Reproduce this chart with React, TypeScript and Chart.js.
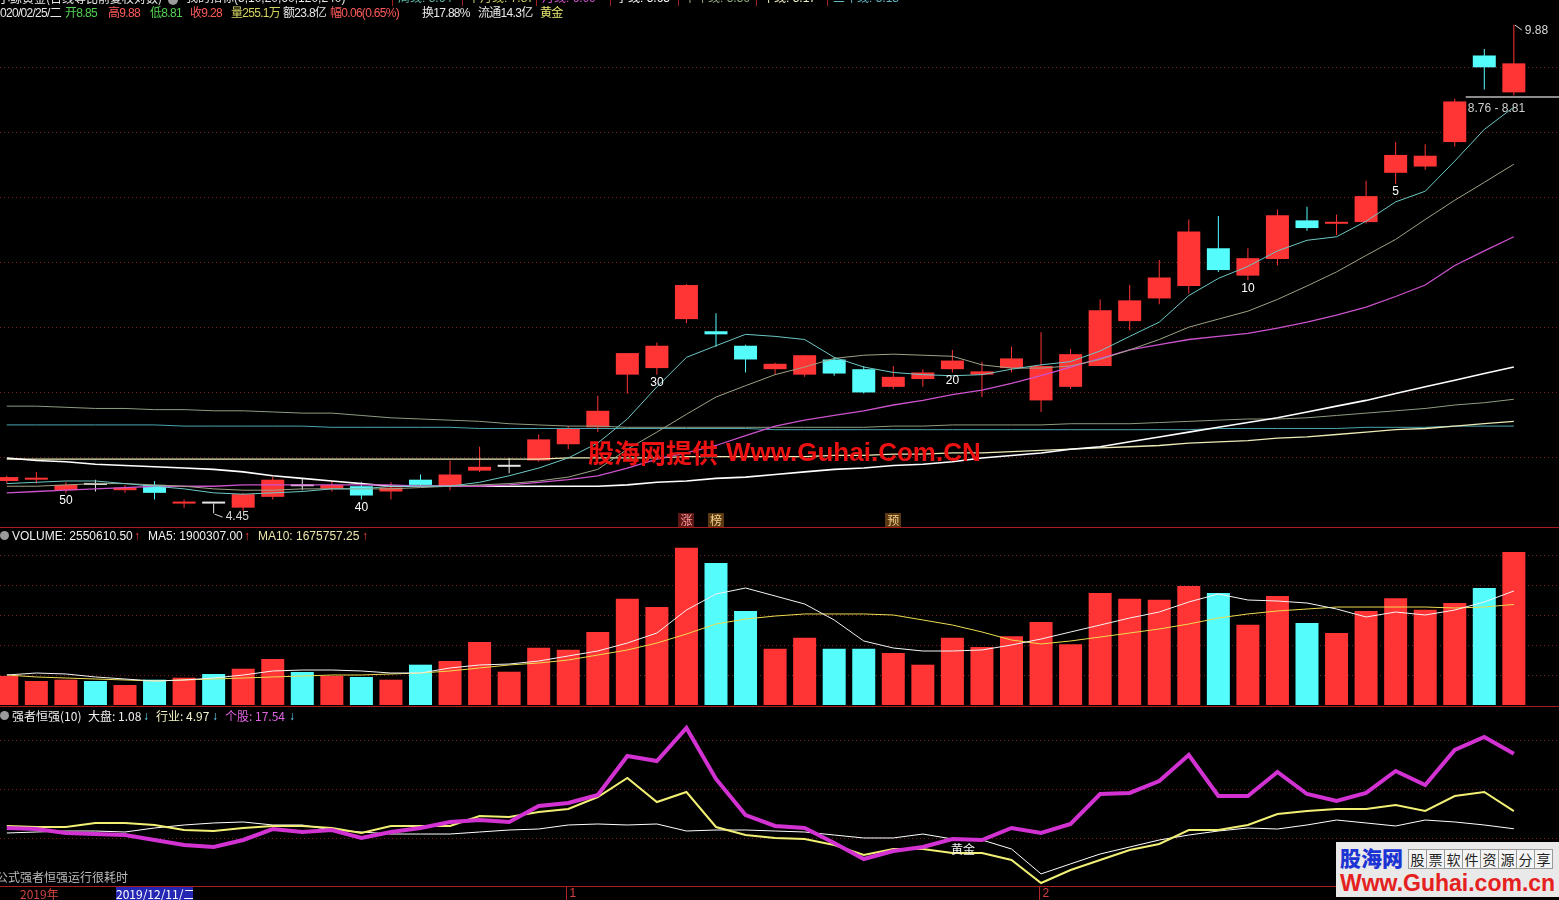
import React, { useEffect, useRef } from 'react';
import { Chart, registerables } from 'chart.js';

Chart.register(...registerables);

// ---------------- data (52 trading days, last = 2020/02/25) ----------------
const opens = [4.69, 4.70, 4.62, 4.66, 4.62, 4.66, 4.52, 4.52, 4.49, 4.57, 4.65, 4.63, 4.65, 4.61, 4.70, 4.65, 4.77, 4.80, 4.85, 4.98, 5.12, 5.58, 5.64, 6.11, 5.99, 5.85, 5.63, 5.58, 5.72, 5.63, 5.47, 5.54, 5.63, 5.58, 5.64, 5.35, 5.47, 5.66, 6.09, 6.32, 6.45, 6.86, 6.56, 6.74, 7.18, 7.14, 7.16, 7.76, 7.84, 8.16, 9.40, 8.85];
const highs = [4.73, 4.76, 4.68, 4.70, 4.66, 4.69, 4.55, 4.52, 4.60, 4.72, 4.71, 4.69, 4.68, 4.68, 4.74, 4.85, 4.96, 4.87, 5.06, 5.13, 5.39, 5.78, 5.88, 6.47, 6.17, 5.86, 5.69, 5.76, 5.74, 5.66, 5.66, 5.63, 5.81, 5.70, 5.84, 5.98, 5.82, 6.31, 6.46, 6.73, 7.19, 7.23, 6.86, 7.31, 7.34, 7.25, 7.66, 8.16, 8.13, 8.76, 9.50, 9.88];
const lows = [4.67, 4.67, 4.60, 4.61, 4.60, 4.55, 4.49, 4.45, 4.47, 4.55, 4.62, 4.61, 4.55, 4.55, 4.65, 4.62, 4.76, 4.75, 4.84, 4.94, 5.08, 5.41, 5.58, 6.07, 5.84, 5.60, 5.58, 5.56, 5.57, 5.41, 5.45, 5.47, 5.60, 5.38, 5.60, 5.25, 5.45, 5.66, 6.00, 6.26, 6.37, 6.60, 6.51, 6.67, 7.06, 7.01, 7.14, 7.62, 7.80, 8.10, 8.89, 8.81];
const closes = [4.72, 4.71, 4.66, 4.66, 4.64, 4.60, 4.53, 4.52, 4.59, 4.70, 4.65, 4.66, 4.58, 4.64, 4.66, 4.74, 4.80, 4.80, 5.02, 5.11, 5.26, 5.78, 5.85, 6.46, 5.96, 5.72, 5.68, 5.76, 5.59, 5.42, 5.56, 5.60, 5.71, 5.61, 5.73, 5.66, 5.77, 6.20, 6.30, 6.54, 7.05, 6.62, 6.75, 7.24, 7.09, 7.16, 7.47, 7.99, 7.98, 8.72, 9.22, 9.28];

const ma5 = [4.67, 4.68, 4.69, 4.69, 4.67, 4.65, 4.63, 4.60, 4.59, 4.60, 4.61, 4.63, 4.63, 4.65, 4.65, 4.65, 4.68, 4.73, 4.79, 4.87, 4.99, 5.19, 5.47, 5.74, 5.85, 5.96, 5.94, 5.91, 5.74, 5.65, 5.60, 5.58, 5.57, 5.58, 5.63, 5.67, 5.70, 5.80, 5.94, 6.08, 6.35, 6.53, 6.66, 6.83, 6.95, 6.99, 7.17, 7.40, 7.53, 7.91, 8.33, 8.64];
const ma10 = [4.65, 4.65, 4.66, 4.67, 4.67, 4.66, 4.65, 4.63, 4.62, 4.62, 4.63, 4.63, 4.63, 4.63, 4.64, 4.65, 4.66, 4.67, 4.69, 4.72, 4.78, 4.94, 5.08, 5.23, 5.38, 5.48, 5.58, 5.65, 5.73, 5.76, 5.77, 5.76, 5.75, 5.67, 5.64, 5.64, 5.66, 5.72, 5.81, 5.91, 6.03, 6.11, 6.19, 6.31, 6.45, 6.60, 6.78, 6.96, 7.19, 7.42, 7.64, 7.87];
const ma20 = [4.60, 4.61, 4.62, 4.63, 4.64, 4.65, 4.65, 4.65, 4.66, 4.66, 4.66, 4.66, 4.66, 4.66, 4.65, 4.65, 4.65, 4.66, 4.68, 4.70, 4.73, 4.79, 4.86, 4.91, 4.97, 5.05, 5.13, 5.18, 5.22, 5.26, 5.31, 5.35, 5.40, 5.44, 5.50, 5.57, 5.65, 5.73, 5.81, 5.86, 5.91, 5.94, 5.97, 6.02, 6.08, 6.15, 6.23, 6.34, 6.46, 6.67, 6.83, 6.99];
const ma60 = [4.87, 4.85, 4.84, 4.82, 4.81, 4.80, 4.79, 4.78, 4.76, 4.73, 4.71, 4.69, 4.67, 4.65, 4.65, 4.65, 4.65, 4.65, 4.65, 4.65, 4.65, 4.66, 4.68, 4.69, 4.71, 4.72, 4.74, 4.76, 4.78, 4.79, 4.81, 4.82, 4.84, 4.87, 4.89, 4.91, 4.94, 4.96, 5.00, 5.04, 5.08, 5.12, 5.16, 5.20, 5.25, 5.30, 5.35, 5.41, 5.47, 5.53, 5.59, 5.65];
const ma120 = [5.30, 5.30, 5.29, 5.28, 5.28, 5.27, 5.27, 5.26, 5.26, 5.25, 5.24, 5.24, 5.22, 5.20, 5.19, 5.18, 5.17, 5.15, 5.14, 5.13, 5.13, 5.12, 5.12, 5.12, 5.12, 5.12, 5.12, 5.12, 5.12, 5.12, 5.13, 5.13, 5.14, 5.14, 5.14, 5.14, 5.15, 5.15, 5.15, 5.16, 5.17, 5.18, 5.19, 5.19, 5.20, 5.22, 5.24, 5.26, 5.28, 5.31, 5.33, 5.36];
const ma240 = [4.86, 4.86, 4.86, 4.86, 4.86, 4.86, 4.86, 4.86, 4.86, 4.86, 4.86, 4.86, 4.86, 4.86, 4.86, 4.86, 4.86, 4.86, 4.86, 4.87, 4.87, 4.87, 4.87, 4.88, 4.88, 4.88, 4.88, 4.88, 4.89, 4.89, 4.90, 4.90, 4.91, 4.91, 4.92, 4.93, 4.94, 4.95, 4.96, 4.97, 4.99, 5.00, 5.01, 5.03, 5.04, 5.06, 5.08, 5.10, 5.11, 5.13, 5.15, 5.17];
const ma750 = [5.14, 5.14, 5.14, 5.14, 5.14, 5.14, 5.13, 5.13, 5.13, 5.13, 5.13, 5.12, 5.12, 5.12, 5.12, 5.12, 5.11, 5.11, 5.11, 5.11, 5.11, 5.11, 5.11, 5.11, 5.11, 5.11, 5.10, 5.10, 5.10, 5.10, 5.10, 5.10, 5.10, 5.10, 5.10, 5.10, 5.10, 5.10, 5.10, 5.10, 5.10, 5.11, 5.11, 5.11, 5.11, 5.11, 5.12, 5.12, 5.12, 5.13, 5.13, 5.13];

const volumes = [483000, 400000, 422000, 400000, 333000, 422000, 455000, 517000, 605000, 767000, 550000, 483000, 467000, 422000, 672000, 733000, 1050000, 555000, 955000, 922000, 1217000, 1772000, 1633000, 2622000, 2367000, 1567000, 938000, 1122000, 938000, 938000, 867000, 672000, 1122000, 967000, 1145000, 1383000, 1012000, 1867000, 1772000, 1755000, 1983000, 1867000, 1339000, 1817000, 1367000, 1200000, 1567000, 1780000, 1589000, 1700000, 1950000, 2550610.5];
const volUp = [1, 1, 1, 0, 1, 0, 1, 0, 1, 1, 0, 1, 0, 1, 0, 1, 1, 1, 1, 1, 1, 1, 1, 1, 0, 0, 1, 1, 0, 0, 1, 1, 1, 1, 1, 1, 1, 1, 1, 1, 1, 0, 1, 1, 0, 1, 1, 1, 1, 1, 0, 1];
const volMa5 = [500000, 533000, 517000, 467000, 433000, 400000, 417000, 450000, 500000, 567000, 583000, 583000, 567000, 533000, 533000, 617000, 667000, 683000, 733000, 817000, 900000, 1033000, 1200000, 1583000, 1850000, 1950000, 1817000, 1683000, 1417000, 1067000, 950000, 900000, 900000, 917000, 1000000, 1100000, 1217000, 1333000, 1450000, 1550000, 1717000, 1850000, 1750000, 1733000, 1700000, 1600000, 1467000, 1550000, 1500000, 1583000, 1717000, 1900307];
const volMa10 = [500000, 467000, 450000, 433000, 417000, 400000, 417000, 433000, 450000, 467000, 483000, 500000, 500000, 517000, 533000, 567000, 617000, 667000, 700000, 750000, 833000, 917000, 1033000, 1183000, 1350000, 1433000, 1483000, 1517000, 1517000, 1517000, 1500000, 1417000, 1333000, 1217000, 1083000, 1017000, 1067000, 1133000, 1200000, 1267000, 1350000, 1450000, 1517000, 1567000, 1600000, 1633000, 1633000, 1633000, 1633000, 1617000, 1633000, 1675757.25];

const rsStock = [1.25, 1.03, 0.15, -0.07, -0.29, -1.38, -2.48, -2.92, -1.38, 1.03, 0.37, 0.81, -0.94, 0.37, 1.25, 2.57, 3.00, 2.57, 6.07, 6.73, 8.49, 17.04, 15.94, 23.18, 12.0, 4.10, 1.69, 1.25, -2.04, -5.55, -3.79, -2.92, -1.16, -1.38, 1.25, 0.15, 2.13, 8.71, 8.93, 11.56, 17.26, 8.27, 8.27, 13.53, 8.71, 7.17, 8.93, 13.75, 10.68, 18.36, 21.21, 17.54];
const rsIndustry = [1.69, 1.47, 1.47, 2.35, 2.35, 1.91, 0.81, 0.59, 1.25, 1.69, 1.69, 1.25, 0.15, 1.69, 1.69, 1.69, 3.88, 3.66, 4.76, 5.42, 8.05, 12.21, 6.95, 9.14, 1.47, -0.29, -0.94, -1.16, -2.48, -4.67, -3.35, -3.35, -4.23, -4.23, -5.77, -10.81, -7.96, -5.77, -3.57, -2.26, 0.81, 0.81, 1.91, 4.32, 4.98, 5.42, 5.42, 6.29, 4.98, 8.27, 9.14, 4.97];
const rsMarket = [0.15, 0.37, 0.59, 0.59, 0.37, 1.25, 1.91, 2.35, 2.57, 1.91, 1.91, 0.81, 0.37, -0.07, -0.07, -0.07, 0.37, 0.81, 1.03, 1.91, 2.13, 1.91, 2.13, 0.59, 0.81, 0.81, 0.59, 0.37, -0.29, -0.94, -0.94, -0.07, -1.16, -1.38, -3.35, -8.82, -6.62, -4.45, -2.92, -1.38, -0.29, 0.59, 1.25, 1.03, 1.91, 3.00, 2.35, 1.69, 3.00, 2.57, 1.91, 1.08];

const countdownMarks = [50, 40, 30, 20, 10, 5];
const eventIdx = [23, 24, 30];
const eventText = ['涨', '榜', '预'];
const monthStartIdx = [19, 35];
const monthLabels = ['1', '2'];
const gapRange = [8.76, 8.81];
const priceGrid = [9.225, 8.295, 7.459, 6.708, 6.032, 5.424, 4.878];
const volGrid = [500000, 1000000, 1500000, 2000000, 2500000];
const rsGrid = [20.55, 9.8, -0.94];

// ---------------- layout / style ----------------
const W = 1559;
const N = opens.length;
const X_MIN = -0.23;
const X_MAX = 52.528;
const P_MIN = 4.3503;
const P_MAX = 10.292;
const VOL_MAX = 2966700;
const RS_MIN = -11.47;
const RS_MAX = 27.785;

const RED = '#ff3434';
const CYAN = '#54fcfc';
const DOJI = '#e6e6e6';
const GRID = '#7a1e1e';
const SEP = '#a81c1c';
const FONT = '"Liberation Sans", "Noto Sans CJK SC", sans-serif';
const CJK = '"Noto Sans CJK SC", "Liberation Sans", sans-serif';
const CANVAS_FONT = '12px "Liberation Sans", "Noto Sans CJK SC", sans-serif';
const CANVAS_CJK = '12px "Noto Sans CJK SC", sans-serif';

const candleColors = opens.map((o, i) => (closes[i] > o ? RED : closes[i] < o ? CYAN : DOJI));
const volColors = volUp.map((u) => (u ? RED : CYAN));

function xScale(): any {
  return { type: 'linear', min: X_MIN, max: X_MAX, offset: false, bounds: 'data', display: false };
}

function baseOptions(yScale: any, padding: any): any {
  return {
    responsive: false,
    maintainAspectRatio: false,
    animation: false,
    devicePixelRatio: 1,
    events: [],
    layout: { padding },
    plugins: { legend: { display: false }, tooltip: { enabled: false } },
    scales: { x: xScale(), y: yScale },
  };
}

function lineDs(values: number[], color: string, width: number, order = 0): any {
  return {
    type: 'line',
    data: values.map((v, i) => ({ x: i, y: v })),
    borderColor: color,
    borderWidth: width,
    pointRadius: 0,
    pointHoverRadius: 0,
    tension: 0,
    fill: false,
    order,
  };
}

function barDs(data: any[], colors: string[], thickness: number, order: number, minLen = 0): any {
  return {
    type: 'bar',
    data,
    backgroundColor: colors,
    borderWidth: 0,
    barThickness: thickness,
    categoryPercentage: 1,
    barPercentage: 1,
    grouped: false,
    minBarLength: minLen,
    inflateAmount: 0,
    order,
  };
}

function dottedGrid(values: number[]): any {
  return {
    id: 'dottedGrid',
    beforeDatasetsDraw(chart: any) {
      const { ctx } = chart;
      const y = chart.scales.y;
      ctx.save();
      ctx.strokeStyle = GRID;
      ctx.lineWidth = 1;
      ctx.setLineDash([1, 3]);
      values.forEach((v) => {
        const py = Math.round(y.getPixelForValue(v)) + 0.5;
        ctx.beginPath();
        ctx.moveTo(0, py);
        ctx.lineTo(chart.width, py);
        ctx.stroke();
      });
      ctx.restore();
    },
  };
}

const priceDecor: any = {
  id: 'priceDecor',
  afterDatasetsDraw(chart: any) {
    const { ctx } = chart;
    const x = chart.scales.x;
    const y = chart.scales.y;
    ctx.save();
    ctx.font = CANVAS_FONT;
    ctx.textBaseline = 'middle';
    ctx.fillStyle = '#ffffff';
    ctx.textAlign = 'center';
    countdownMarks.forEach((n) => {
      const i = N - n;
      ctx.fillText(String(n), x.getPixelForValue(i), y.getPixelForValue(lows[i]) + 8);
    });
    let iMin = 0;
    lows.forEach((v, i) => { if (v < lows[iMin]) iMin = i; });
    let iMax = 0;
    highs.forEach((v, i) => { if (v > highs[iMax]) iMax = i; });
    ctx.strokeStyle = '#d8d8d8';
    ctx.fillStyle = '#d8d8d8';
    ctx.lineWidth = 1;
    {
      const px = x.getPixelForValue(iMin);
      const py = y.getPixelForValue(lows[iMin]);
      ctx.beginPath();
      ctx.moveTo(px + 1, py + 1);
      ctx.lineTo(px + 9, py + 4);
      ctx.stroke();
      ctx.textAlign = 'left';
      ctx.fillText(lows[iMin].toFixed(2), px + 12, py + 4);
    }
    {
      const px = x.getPixelForValue(iMax);
      const py = y.getPixelForValue(highs[iMax]);
      ctx.beginPath();
      ctx.moveTo(px + 1, py);
      ctx.lineTo(px + 8, py + 5);
      ctx.stroke();
      ctx.textAlign = 'left';
      ctx.fillText(highs[iMax].toFixed(2), px + 11, py + 6);
    }
    {
      const px = x.getPixelForValue(N - 3);
      const py = Math.round(y.getPixelForValue((gapRange[0] + gapRange[1]) / 2));
      ctx.strokeStyle = '#8c8c8c';
      ctx.lineWidth = 2;
      ctx.beginPath();
      ctx.moveTo(px + 11, py);
      ctx.lineTo(chart.width, py);
      ctx.stroke();
      ctx.fillStyle = '#d0d0d0';
      ctx.textAlign = 'left';
      ctx.fillText(`${gapRange[0].toFixed(2)} - ${gapRange[1].toFixed(2)}`, px + 13, y.getPixelForValue(gapRange[0]) + 10);
    }
    ctx.font = CANVAS_CJK;
    ctx.textAlign = 'center';
    const bottom = chart.chartArea.bottom;
    eventIdx.forEach((i, k) => {
      const px = x.getPixelForValue(i);
      const first = k === 0;
      ctx.fillStyle = first ? '#5c1616' : '#5a3812';
      ctx.fillRect(Math.round(px - 8), bottom - 14, 16, 14);
      ctx.fillStyle = first ? '#ff9c9c' : '#f4d08a';
      ctx.fillText(eventText[k], px, bottom - 7);
    });
    ctx.restore();
  },
};

const rsAxisDecor: any = {
  id: 'rsAxisDecor',
  afterDraw(chart: any) {
    const { ctx } = chart;
    const x = chart.scales.x;
    const top = chart.chartArea.bottom;
    ctx.save();
    ctx.strokeStyle = '#b02424';
    ctx.fillStyle = '#d84040';
    ctx.lineWidth = 1;
    ctx.font = CANVAS_FONT;
    ctx.textBaseline = 'middle';
    ctx.textAlign = 'left';
    monthStartIdx.forEach((i, k) => {
      const px = Math.round(x.getPixelForValue(i)) - 1.5;
      ctx.beginPath();
      ctx.moveTo(px, top);
      ctx.lineTo(px, chart.height);
      ctx.stroke();
      ctx.fillText(monthLabels[k], px + 3, top + 7.5);
    });
    ctx.restore();
  },
};

function makePrice(): any {
  const idx = opens.map((_, i) => i);
  return {
    type: 'bar',
    data: {
      datasets: [
        lineDs(ma5, '#6cc8c4', 1),
        lineDs(ma10, '#9ea286', 1),
        lineDs(ma20, '#cc52cc', 1.3),
        lineDs(ma60, '#ffffff', 1.6),
        lineDs(ma120, '#8e9c80', 1),
        lineDs(ma240, '#ecebb8', 1.3),
        lineDs(ma750, '#4aa6b0', 1),
        barDs(idx.map((i) => ({ x: i, y: [opens[i], closes[i]] })), candleColors, 23, 1, 2),
        barDs(idx.map((i) => ({ x: i, y: [lows[i], highs[i]] })), candleColors, 1, 2),
      ],
    },
    options: baseOptions({ type: 'logarithmic', min: P_MIN, max: P_MAX, bounds: 'data', display: false }, 0),
    plugins: [dottedGrid(priceGrid), priceDecor],
  };
}

function makeVolume(): any {
  return {
    type: 'bar',
    data: {
      datasets: [
        lineDs(volMa5, '#f4f4f4', 1),
        lineDs(volMa10, '#ecdc50', 1),
        barDs(volumes.map((v, i) => ({ x: i, y: v })), volColors, 23, 1),
      ],
    },
    options: baseOptions({ type: 'linear', min: 0, max: VOL_MAX, display: false }, { top: 0, bottom: 2, left: 0, right: 0 }),
    plugins: [dottedGrid(volGrid)],
  };
}

function makeRs(): any {
  return {
    type: 'line',
    data: {
      datasets: [
        lineDs(rsStock, '#d232d2', 4, 0),
        lineDs(rsIndustry, '#f2f074', 2, 1),
        lineDs(rsMarket, '#ffffff', 1, 2),
      ],
    },
    options: baseOptions({ type: 'linear', min: RS_MIN, max: RS_MAX, display: false }, { top: 0, bottom: 14, left: 0, right: 0 }),
    plugins: [dottedGrid(rsGrid), rsAxisDecor],
  };
}

function ChartCanvas({ top, height, make }: { top: number; height: number; make: () => any }) {
  const ref = useRef<HTMLCanvasElement | null>(null);
  useEffect(() => {
    const chart = new Chart(ref.current as HTMLCanvasElement, make());
    return () => chart.destroy();
  }, []);
  return (
    <canvas
      ref={ref}
      width={W}
      height={height}
      style={{ position: 'absolute', left: 0, top, width: W, height, display: 'block' }}
    />
  );
}

function Txt({ x, y, size = 12, color = '#e8e8e8', bold = false, font = FONT, ls = 0, children }: any) {
  return (
    <div
      style={{
        position: 'absolute',
        left: x,
        top: y,
        fontSize: size,
        lineHeight: `${size + 2}px`,
        color,
        fontWeight: bold ? 700 : 400,
        fontFamily: font,
        letterSpacing: ls,
        whiteSpace: 'nowrap',
      }}
    >
      {children}
    </div>
  );
}

function Dot({ x, y }: { x: number; y: number }) {
  return (
    <div style={{ position: 'absolute', left: x, top: y, width: 9, height: 9, borderRadius: '50%', background: '#9a9a9a' }} />
  );
}

function HLine({ y, color = SEP, h = 1 }: { y: number; color?: string; h?: number }) {
  return <div style={{ position: 'absolute', left: 0, top: y, width: W, height: h, background: color }} />;
}

export default function App() {
  const L = N - 1;
  const prevClose = closes[L - 1];
  const chg = closes[L] - prevClose;
  const maHead: [number, string, string][] = [
    [398, `周线: ${ma5[L].toFixed(2)}`, '#5cbca8'],
    [468, `半月线: ${ma10[L].toFixed(2)}`, '#c8c860'],
    [542, `月线: ${ma20[L].toFixed(2)}`, '#d050d0'],
    [616, `季线: ${ma60[L].toFixed(2)}`, '#ffffff'],
    [684, `半年线: ${ma120[L].toFixed(2)}`, '#94ac84'],
    [762, `年线: ${ma240[L].toFixed(2)}`, '#f0f0c4'],
    [833, `三年线: ${ma750[L].toFixed(2)}`, '#62b4c2'],
  ];
  const quote: [number, string, string][] = [
    [-6, '2020/02/25/二', '#e8e8e8'],
    [65, `开${opens[L].toFixed(2)}`, '#52d052'],
    [108, `高${highs[L].toFixed(2)}`, '#ff5a5a'],
    [150, `低${lows[L].toFixed(2)}`, '#52d052'],
    [190, `收${closes[L].toFixed(2)}`, '#ff5a5a'],
    [231, `量${(volumes[L] / 10000).toFixed(1)}万`, '#d4d464'],
    [283, '额23.8亿', '#e8e8e8'],
    [330, `幅${chg.toFixed(2)}(${((chg / prevClose) * 100).toFixed(2)}%)`, '#ff5a5a'],
    [422, '换17.88%', '#e8e8e8'],
    [478, '流通14.3亿', '#e8e8e8'],
    [540, '黄金', '#e8e870'],
  ];
  return (
    <div
      style={{
        position: 'fixed',
        left: 0,
        top: 0,
        width: W,
        height: 900,
        background: '#000',
        overflow: 'hidden',
        fontFamily: FONT,
      }}
    >
      <ChartCanvas top={0} height={527} make={makePrice} />
      <ChartCanvas top={527} height={180} make={makeVolume} />
      <ChartCanvas top={707} height={193} make={makeRs} />

      <HLine y={527} />
      <HLine y={706} />
      <HLine y={886} />

      {/* header line 1 (cut off at top) */}
      <Txt x={-2} y={-9} size={12} font={CJK}>小鲸黄金(日线等比前复权对数)</Txt>
      <div style={{ position: 'absolute', left: 168, top: -5, width: 10, height: 10, borderRadius: '50%', background: '#9a9a9a' }} />
      <Txt x={186} y={-9} size={12}>我的指标(5,10,20,60,120,240)</Txt>
      {maHead.map(([x, t, c]) => (
        <React.Fragment key={t}>
          <div style={{ position: 'absolute', left: x - 6, top: 0, width: 1, height: 6, background: '#a02020' }} />
          <Txt x={x} y={-9} size={12} color={c}>{t}</Txt>
        </React.Fragment>
      ))}

      {/* header line 2 */}
      {quote.map(([x, t, c]) => (
        <Txt key={t} x={x} y={6} size={12} color={c} ls={-0.7}>{t}</Txt>
      ))}

      {/* watermark in price panel */}
      <Txt x={588} y={438} size={26} bold color="#ec1212" font={CJK}>股海网提供</Txt>
      <Txt x={726} y={438} size={26} bold color="#ec1212" font={'"Liberation Sans", sans-serif'}>Www.Guhai.Com.CN</Txt>

      {/* volume header */}
      <Dot x={0} y={531} />
      <Txt x={12} y={529} color="#f0f0f0">{`VOLUME: ${volumes[L].toFixed(2)}`}</Txt>
      <Txt x={134} y={529} color="#ff4040">↑</Txt>
      <Txt x={148} y={529} color="#f0f0f0">{`MA5: ${volMa5[L].toFixed(2)}`}</Txt>
      <Txt x={244} y={529} color="#ff4040">↑</Txt>
      <Txt x={258} y={529} color="#ece6a8">{`MA10: ${volMa10[L].toFixed(2)}`}</Txt>
      <Txt x={362} y={529} color="#ff4040">↑</Txt>

      {/* indicator header */}
      <Dot x={0} y={711} />
      <Txt x={12} y={709} font={CJK} color="#f0f0f0">强者恒强(10)</Txt>
      <Txt x={88} y={709} font={CJK} color="#f0f0f0">{`大盘: ${rsMarket[L].toFixed(2)}`}</Txt>
      <Txt x={143} y={709} color="#66dcff">↓</Txt>
      <Txt x={156} y={709} font={CJK} color="#f2f2c8">{`行业: ${rsIndustry[L].toFixed(2)}`}</Txt>
      <Txt x={212} y={709} color="#66dcff">↓</Txt>
      <Txt x={225} y={709} font={CJK} color="#e064e0">{`个股: ${rsStock[L].toFixed(2)}`}</Txt>
      <Txt x={289} y={709} color="#66dcff">↓</Txt>

      <Txt x={951} y={842} font={CJK} color="#f4f4f4">黄金</Txt>
      <Txt x={-4} y={870} font={CJK} color="#bcbcbc">公式强者恒强运行很耗时</Txt>

      {/* bottom date row */}
      <Txt x={20} y={887} color="#d04444" font={CJK}>2019年</Txt>
      <div
        style={{
          position: 'absolute',
          left: 116,
          top: 887,
          width: 77,
          height: 13,
          background: '#2626b4',
          color: '#ffffff',
          fontSize: 12,
          lineHeight: '13px',
          fontFamily: CJK,
          whiteSpace: 'nowrap',
          overflow: 'hidden',
        }}
      >
        2019/12/11/二
      </div>

      {/* site logo box */}
      <div
        style={{
          position: 'absolute',
          left: 1336,
          top: 842,
          width: 223,
          height: 55,
          background: '#e9e9e9',
          overflow: 'hidden',
        }}
      >
        <div style={{ position: 'absolute', left: 4, top: 2, fontSize: 21, lineHeight: '26px', fontWeight: 900, color: '#1c34d4', fontFamily: CJK }}>
          股海网
        </div>
        <div style={{ position: 'absolute', left: 72, top: 7, display: 'flex' }}>
          {'股票软件资源分享'.split('').map((ch) => (
            <div
              key={ch}
              style={{
                width: 17,
                height: 18,
                border: '1px solid #9a9a9a',
                marginRight: -1,
                fontSize: 14,
                lineHeight: '18px',
                textAlign: 'center',
                color: '#222',
                fontFamily: CJK,
                background: '#f4f4f4',
              }}
            >
              {ch}
            </div>
          ))}
        </div>
        <div style={{ position: 'absolute', left: 4, top: 29, fontSize: 23, lineHeight: '25px', fontWeight: 700, color: '#e42020', fontFamily: '"Liberation Sans", sans-serif', whiteSpace: 'nowrap' }}>
          Www.Guhai.com.cn
        </div>
      </div>
    </div>
  );
}
